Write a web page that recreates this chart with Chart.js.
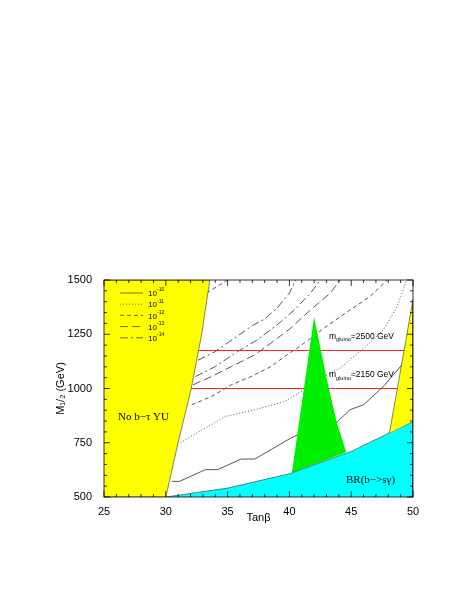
<!DOCTYPE html>
<html><head><meta charset="utf-8">
<script src="https://cdn.jsdelivr.net/npm/chart.js@4"></script>
<style>html,body{margin:0;background:#fff}#c{display:block}</style>
</head><body>
<canvas id="c" width="468" height="605"></canvas>
<script>
// regions (polygons in data coords)
const yuLeft = [[25,500],[30,500],[31,751],[32.06,1000],[32.9,1250],[33.56,1500],[25,1500]];
const bsgamma = [[30,500],[35,541],[40,607],[45,710],[48,793],[50,847],[50,500]];
const greenArea = [[40.2,612],[42,1330],[43,1050],[43.8,850],[44.6,706]];
const yuRight = [[48.1,795],[50,1410],[50,850]];
const gluino2500 = [[32.6,1175],[49.4,1175]];
const gluino2150 = [[32.05,1000],[48.8,1000]];

// contour lines
const c10 = [[30.5,572],[31.1,572],[33.2,626],[34.2,626],[36.1,675],[37.2,675],[38.5,718],[40.1,771],[42.2,825],[43.9,848],[44.9,902],[46,925],[47.6,1009],[49.1,1109]];
const c11 = [[31.2,751],[34.8,871],[37.2,902],[39.6,940],[41.2,994],[42.8,1055],[44.1,1094],[46.5,1209],[47.6,1270],[48.7,1377],[49.5,1500]];
const c12 = [[32.1,925],[33.7,963],[35.3,1017],[36.9,1055],[38.5,1101],[39.6,1147],[41.2,1209],[42.8,1278],[44.9,1362],[46.5,1423],[47.9,1500]];
const c13 = [[32.2,1017],[33.7,1055],[35.3,1101],[37.2,1155],[38.5,1209],[40.1,1278],[41.7,1362],[43.3,1439],[44.1,1500]];
const c14 = [[32.4,1055],[34,1101],[35.8,1170],[37.4,1224],[39,1293],[40.4,1362],[41.7,1439],[42.5,1500]];
const c14b = [[32.6,1130],[34,1170],[35.5,1230],[37,1290],[38,1320],[39,1370],[40,1440],[40.5,1500]];
const c12b = [[33.3,1440],[35,1500]];

const legendLabels = ['-10','-11','-12','-13','-14'];
const xTicks = [25,30,35,40,45,50];
const yTicks = [500,750,1000,1250,1500];

const pts = a => a.map(p => ({x:p[0], y:p[1]}));
const DASH = [[], [1,2], [4,3], [8,4], [8,3,2,3]];
const LC = '#444';
const FONT = 'Arial, "Liberation Sans"';

function area(d, color){ return {data:pts(d), showLine:true, fill:'shape', backgroundColor:color, borderColor:'#333', borderWidth:0.6, pointRadius:0}; }
function line(d, dash, color, w){ return {data:pts(d), showLine:true, fill:false, borderColor:color||LC, borderWidth:w||0.9, borderDash:dash, pointRadius:0}; }

const ticksPlugin = {
  id:'ticks',
  afterDatasetsDraw(chart){
    const {ctx, chartArea:a, scales:{x, y}} = chart;
    ctx.save();
    ctx.strokeStyle = '#000'; ctx.lineWidth = 0.8;
    ctx.strokeRect(a.left, a.top, a.right-a.left, a.bottom-a.top);
    ctx.beginPath();
    for(let v=25; v<=50; v++){
      const px = x.getPixelForValue(v), L = v%5===0 ? 6 : 3;
      ctx.moveTo(px, a.bottom); ctx.lineTo(px, a.bottom-L);
      ctx.moveTo(px, a.top); ctx.lineTo(px, a.top+L);
    }
    for(let v=500; v<=1500; v+=50){
      const py = y.getPixelForValue(v), L = v%250===0 ? 6 : 3;
      ctx.moveTo(a.left, py); ctx.lineTo(a.left+L, py);
      ctx.moveTo(a.right, py); ctx.lineTo(a.right-L, py);
    }
    ctx.stroke();

    // legend
    ctx.fillStyle = '#000';
    legendLabels.forEach((s,i)=>{
      const ly = 293 + i*11.2;
      ctx.beginPath(); ctx.setLineDash(DASH[i]); ctx.strokeStyle = LC;
      ctx.moveTo(120, ly); ctx.lineTo(143, ly); ctx.stroke();
      ctx.setLineDash([]);
      ctx.font = '8px ' + FONT; ctx.textBaseline = 'middle'; ctx.textAlign = 'left';
      ctx.fillText('10', 148, ly+1);
      ctx.font = '5px ' + FONT;
      ctx.fillText(s, 157, ly-3);
    });

    // annotations
    ctx.font = '11px "Liberation Serif", "DejaVu Serif", serif';
    ctx.fillText('No b\u2212\u03c4 YU', 118, y.getPixelForValue(870));
    ctx.fillText('BR(b\u2212>s\u03b3)', 346, y.getPixelForValue(578));
    const gl = (val, txt) => {
      const py = y.getPixelForValue(val);
      let px = 329;
      ctx.font = '8.5px ' + FONT;
      ctx.fillText('m', px, py); px += ctx.measureText('m').width;
      ctx.font = '5.5px ' + FONT;
      ctx.fillText('gluino', px, py+3); px += ctx.measureText('gluino').width;
      ctx.font = '8.5px ' + FONT;
      ctx.fillText(txt, px, py);
    };
    gl(1238, '=2500 GeV');
    gl(1062, '=2150 GeV');
    ctx.restore();
  }
};

new Chart(document.getElementById('c'), {
  type:'scatter',
  data:{datasets:[
    area(yuLeft,'#ffff00'), area(yuRight,'#ffff00'), area(bsgamma,'#00ffff'),
    {...area(greenArea,'#00ee00'), borderWidth:0},
    line(gluino2500, [], '#ff2020', 1), line(gluino2150, [], '#ff2020', 1),
    line(c10, DASH[0]), line(c11, DASH[1]), line(c12, DASH[2]), line(c12b, DASH[2]),
    line(c13, DASH[3]), line(c14, DASH[4]), line(c14b, DASH[4])
  ]},
  options:{
    responsive:false, animation:false, events:[],
    layout:{padding:{left:54, top:280, right:55, bottom:76}},
    plugins:{legend:{display:false}, tooltip:{enabled:false}},
    scales:{
      x:{type:'linear', min:25, max:50, border:{display:false},
         grid:{display:false},
         afterBuildTicks(s){ s.ticks = xTicks.map(v=>({value:v})); },
         afterFit(s){ s.height = 32; },
         ticks:{color:'#000', font:{size:11, family:FONT}, padding:0, callback:v=>String(v)},
         title:{display:true, text:'Tan\u03b2', color:'#000', font:{size:11, family:FONT}, padding:{top:1}}},
      y:{type:'linear', min:500, max:1500, border:{display:false},
         grid:{display:false},
         afterBuildTicks(s){ s.ticks = yTicks.map(v=>({value:v})); },
         afterFit(s){ s.width = 50; },
         ticks:{color:'#000', font:{size:11, family:FONT}, padding:4, callback:v=>String(v)},
         title:{display:true, text:'M\u2081/\u2082 (GeV)', color:'#000', font:{size:11, family:FONT}, padding:0}}
    }
  },
  plugins:[ticksPlugin]
});
</script>
</body></html>
